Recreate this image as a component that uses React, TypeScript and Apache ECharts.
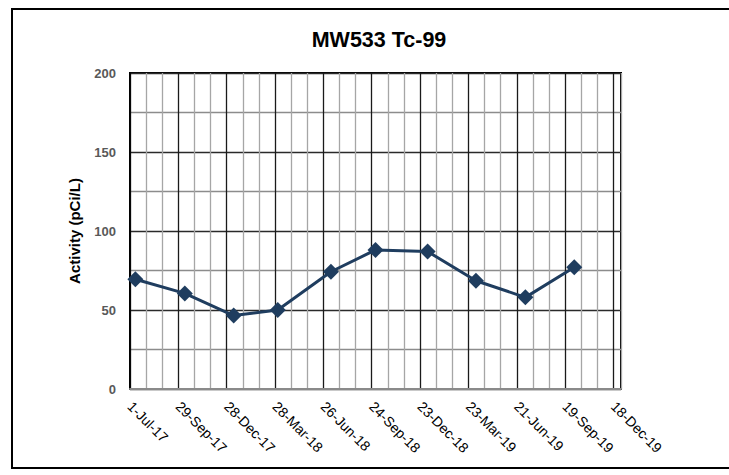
import React, { useEffect, useRef } from "react";
import * as echarts from "echarts";

const START = "2017-07-01";
const END = "2020-01-01";
const sampleDates = [
  "2017-07-11",
  "2017-10-11",
  "2018-01-10",
  "2018-04-02",
  "2018-07-10",
  "2018-10-01",
  "2019-01-06",
  "2019-04-06",
  "2019-07-07",
  "2019-10-06",
];
const activity = [69.5, 60.5, 46.5, 50, 74.2, 88, 87, 68.5, 58, 77];
const MONTHS = ["Jan", "Feb", "Mar", "Apr", "May", "Jun", "Jul", "Aug", "Sep", "Oct", "Nov", "Dec"];
const DAY = 86400000;
const startMs = Date.parse(START + "T00:00:00Z");
const toDays = (s: string) => (Date.parse(s + "T00:00:00Z") - startMs) / DAY;
const fmtDay = (v: number) => {
  const d = new Date(startMs + v * DAY);
  return `${d.getUTCDate()}-${MONTHS[d.getUTCMonth()]}-${String(d.getUTCFullYear() % 100).padStart(2, "0")}`;
};

export default function App() {
  const ref = useRef<HTMLDivElement>(null);
  useEffect(() => {
    if (!ref.current) return;
    const chart = echarts.init(ref.current, undefined, { renderer: "svg" });
    const font = "'Liberation Sans', Arial, sans-serif";
    chart.setOption({
      animation: false,
      backgroundColor: "#fff",
      title: {
        text: "MW533 Tc-99",
        left: 374,
        textAlign: "center",
        top: 24,
        textStyle: { fontFamily: font, fontSize: 21.5, fontWeight: "bold", color: "#000" },
      },
      graphic: [
        {
          type: "rect",
          shape: { x: 12, y: 9, width: 740, height: 459 },
          style: { fill: "none", stroke: "#000", lineWidth: 2 },
          z: 100,
        },
      ],
      grid: {
        left: 130,
        right: 108,
        top: 73,
        bottom: 86,
        show: true,
        borderColor: "#000",
        borderWidth: 2,
        backgroundColor: "#fff",
      },
      xAxis: {
        type: "value",
        min: 0,
        max: toDays(END),
        interval: 30,
        axisLine: { show: true, onZero: false, lineStyle: { color: "#8a8a8a", width: 2 } },
        axisTick: { show: false },
        splitLine: {
          show: true,
          lineStyle: { color: ["#1a1a1a", "#a6a6a6", "#a6a6a6"], width: 1.3 },
        },
        axisLabel: {
          rotate: -45,
          margin: 15,
          fontFamily: font,
          fontSize: 14,
          color: "#000",
          formatter: (v: number) => (Math.round(v) % 90 === 0 ? fmtDay(Math.round(v)) : ""),
        },
      },
      yAxis: {
        type: "value",
        min: 0,
        max: 200,
        interval: 25,
        name: "Activity (pCi/L)",
        nameLocation: "middle",
        nameGap: 48,
        nameTextStyle: { fontFamily: font, fontSize: 15, fontWeight: "bold", color: "#000" },
        axisLine: { show: true, lineStyle: { color: "#000", width: 1.5 } },
        axisTick: { show: false },
        splitLine: { show: true, lineStyle: { color: ["#2a2a2a", "#8c8c8c"], width: 1.3 } },
        axisLabel: {
          margin: 14,
          fontFamily: font,
          fontSize: 13,
          fontWeight: "bold",
          color: "#595959",
          formatter: (v: number) => (v % 50 === 0 ? String(v) : ""),
        },
      },
      series: [
        {
          type: "line",
          data: sampleDates.map((d, i) => [toDays(d), activity[i]]),
          symbol: "diamond",
          symbolSize: 16,
          lineStyle: { color: "#1f3d5f", width: 3 },
          itemStyle: { color: "#1f3d5f" },
          z: 10,
        },
      ],
    });
    return () => chart.dispose();
  }, []);
  return (
    <div
      ref={ref}
      style={{ position: "fixed", left: 0, top: 0, width: 729, height: 475 }}
    />
  );
}
